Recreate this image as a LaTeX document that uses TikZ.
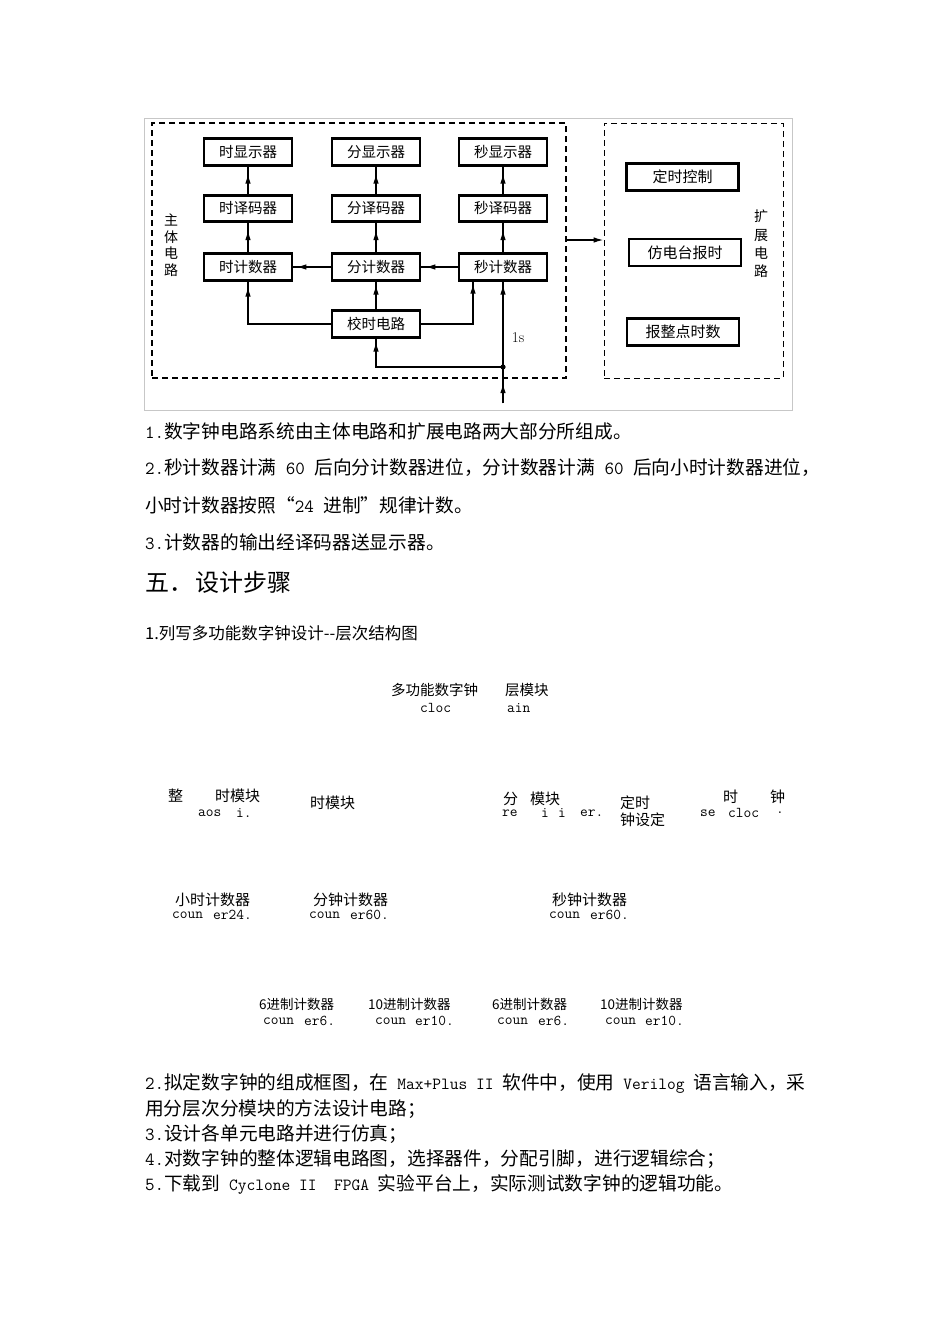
\documentclass[tikz,border=0pt]{standalone}
\usepackage{fontspec}
\newfontfamily\cjk{Noto Sans CJK SC}
\usetikzlibrary{arrows.meta,calc}
\newcommand\tl[1]{{\ttfamily\fontsize{18.5}{20}\selectfont#1}}
\newcommand\tls[1]{{\ttfamily\fontsize{17}{20}\selectfont#1}}
\begin{document}
\begin{tikzpicture}[x=1pt,y=-1pt,
  ln/.style={line width=1.4pt},
  arr/.style={-{Latex[length=10pt,width=5.6pt]}},
  blk/.style={draw, line width=2.8pt, minimum width=88pt, minimum height=26.5pt, inner sep=0pt, font=\cjk\fontsize{14.5}{16}\selectfont},
  ebk/.style={draw, line width=2.6pt, minimum width=112pt, minimum height=27pt, inner sep=0pt, font=\cjk\fontsize{15}{16}\selectfont},
  frm/.style={draw, dash pattern=on 6pt off 4pt, inner sep=0pt},
  bt/.style={anchor=west, inner sep=0pt, font=\cjk\fontsize{18.7}{20}\selectfont},
  ht/.style={anchor=west, inner sep=0pt, font=\cjk\fontsize{15}{16}\selectfont},
  hs/.style={anchor=west, inner sep=0pt, font=\cjk\fontsize{13.5}{15}\selectfont},
  hm/.style={anchor=west, inner sep=0pt, font=\ttfamily\fontsize{15}{16}\selectfont},
  vt/.style={inner sep=0pt, align=center}
]
\useasboundingbox[fill=white] (0,0) rectangle (950,1344);
% outer frame
\draw[black!22, line width=0.9pt] (144,118) rectangle (792,410);
% dashed frames
\node[frm, line width=1.4pt, minimum width=414pt, minimum height=255pt] (main) at (359,250.5) {};
\node[frm, line width=1pt, minimum width=179pt, minimum height=255pt] (ext) at (693.5,250.5) {};
% blocks
\node[blk] (hx) at (248,152) {时显示器};
\node[blk] (fx) at (376,152) {分显示器};
\node[blk] (mx) at (503,152) {秒显示器};
\node[blk] (hy) at (248,208.5) {时译码器};
\node[blk] (fy) at (376,208.5) {分译码器};
\node[blk] (my) at (503,208.5) {秒译码器};
\node[blk] (hj) at (248,267) {时计数器};
\node[blk] (fj) at (376,267) {分计数器};
\node[blk] (mj) at (503,267) {秒计数器};
\node[blk] (jc) at (376,324) {校时电路};
\node[ebk] (e1) at (682.5,177) {定时控制};
\node[ebk] (e2) at (685,252.5) {仿电台报时};
\node[ebk] (e3) at (683,332) {报整点时数};
% vertical labels
\node[vt, font=\cjk\fontsize{14}{16.5}\selectfont] (lz) at (171,245) {主\\体\\电\\路};
\node[vt, font=\cjk\fontsize{14}{18.3}\selectfont] (lk) at (761,244) {扩\\展\\电\\路};
\node[inner sep=0pt, font=\fontsize{15}{16}\selectfont] (s1) at (518,338) {1s};
% connectors
\foreach \a/\b in {hy/hx,fy/fx,my/mx,hj/hy,fj/fy,mj/my} {
  \draw[ln] (\a.north) -- (\b.south);
  \draw[ln,arr,shorten >=7pt] (\a.north) -- (\b.south);
}
\draw[ln] (fj.west) -- (hj.east);
\draw[ln,arr,shorten >=3pt] (fj.west) -- (hj.east);
\draw[ln] (mj.west) -- (fj.east);
\draw[ln,arr,shorten >=4pt] (mj.west) -- (fj.east);
\draw[ln] (jc.north) -- (fj.south);
\draw[ln,arr,shorten >=3pt] (jc.north) -- (fj.south);
\draw[ln] (jc.west) -| (hj.south);
\draw[ln,arr,shorten >=5pt] (jc.west) -| (hj.south);
\coordinate (mjin) at ($(mj.south)+(-30,0)$);
\draw[ln] (jc.east) -| (mjin);
\draw[ln,arr,shorten >=2pt] (jc.east) -| (mjin);
\coordinate (in) at (503,403);
\coordinate (dot) at (503,367);
\draw[ln] (in) -- (mj.south);
\draw[ln,arr,shorten >=3pt] (in) -- (mj.south);
\draw[ln,arr] (in) -- ($(in)!0.55!(dot)$);
\draw[ln] (dot) -| (jc.south);
\draw[ln,arr,shorten >=3pt] (dot) -| (jc.south);
\fill (dot) circle (2.6);
\coordinate (ao) at (566,240);
\draw[ln,arr] (main.east |- ao) -- (ext.west |- ao);
% body text
\node[bt] (t1) at (145,431) {\tl{1.}数字钟电路系统由主体电路和扩展电路两大部分所组成。};
\node[bt] (t2) at (145,468) {\tl{2.}秒计数器计满\tl{\ 60\ }后向分计数器进位，分计数器计满\tl{\ 60\ }后向小时计数器进位，};
\node[bt] (t3) at (145,505) {小时计数器按照“\tl{24\ }进制”规律计数。};
\node[bt] (t4) at (145,542) {\tl{3.}计数器的输出经译码器送显示器。};
\node[anchor=west, inner sep=0pt, font=\cjk\fontsize{24}{26}\selectfont] (h5) at (145,582) {五．\hspace{2pt}设计步骤};
\node[anchor=west, inner sep=0pt, font=\cjk\fontsize{16.5}{18}\selectfont] (h51) at (145,633) {1.列写多功能数字钟设计-{}-层次结构图};
% hierarchy
\node[hs, font=\cjk\fontsize{14.5}{16}\selectfont] (a1) at (391,690) {多功能数字钟};
\node[hs, font=\cjk\fontsize{14.5}{16}\selectfont] (a2) at (505,690) {层模块};
\node[hm] (a3) at (420,708) {cloc};
\node[hm] (a4) at (507,708) {ain};
\node[ht] (b1) at (168,796) {整};
\node[ht] (b2) at (215,796) {时模块};
\node[hm] (b3) at (198,813) {aos};
\node[hm] (b4) at (236,813) {i.};
\node[ht] (b5) at (310,803) {时模块};
\node[ht] (b6) at (503,799) {分};
\node[ht] (b7) at (530,799) {模块};
\node[hm] (b8) at (502,813) {re};
\node[hm] (b9) at (541,813) {i};
\node[hm] (b10) at (558,813) {i};
\node[hm] (b11) at (580,813) {er.};
\node[ht] (b12) at (620,803) {定时};
\node[ht] (b13) at (620,820) {钟设定};
\node[ht] (b14) at (723,797) {时};
\node[ht] (b15) at (770,797) {钟};
\node[hm] (b16) at (700,813) {se};
\node[hm] (b17) at (728,813) {cloc};
\node[hm] (b18) at (776,813) {.};
\node[ht] (c1) at (175,900) {小时计数器};
\node[hm] (c2) at (172,915) {coun};
\node[hm] (c3) at (213,915) {er24.};
\node[ht] (c4) at (313,900) {分钟计数器};
\node[hm] (c5) at (309,915) {coun};
\node[hm] (c6) at (350,915) {er60.};
\node[ht] (c7) at (552,900) {秒钟计数器};
\node[hm] (c8) at (549,915) {coun};
\node[hm] (c9) at (590,915) {er60.};
\node[hs] (d1) at (259,1004) {6进制计数器};
\node[hm] (d2) at (263,1021) {coun};
\node[hm] (d3) at (304,1021) {er6.};
\node[hs] (d4) at (368,1004) {10进制计数器};
\node[hm] (d5) at (375,1021) {coun};
\node[hm] (d6) at (415,1021) {er10.};
\node[hs] (d7) at (492,1004) {6进制计数器};
\node[hm] (d8) at (497,1021) {coun};
\node[hm] (d9) at (538,1021) {er6.};
\node[hs] (d10) at (600,1004) {10进制计数器};
\node[hm] (d11) at (605,1021) {coun};
\node[hm] (d12) at (645,1021) {er10.};
% bottom text
\node[bt] (u1) at (145,1084) {\tl{2.}拟定数字钟的组成框图，在\tls{\ Max+Plus II\ }软件中，使用\tls{\ Verilog\ }语言输入，采};
\node[bt] (u2) at (145,1109) {用分层次分模块的方法设计电路；};
\node[bt] (u3) at (145,1134) {\tl{3.}设计各单元电路并进行仿真；};
\node[bt] (u4) at (145,1159) {\tl{4.}对数字钟的整体逻辑电路图，选择器件，分配引脚，进行逻辑综合；};
\node[bt] (u5) at (145,1185) {\tl{5.}下载到\tls{\ Cyclone II\ \ FPGA\ }实验平台上，实际测试数字钟的逻辑功能。};
\end{tikzpicture}
\end{document}
